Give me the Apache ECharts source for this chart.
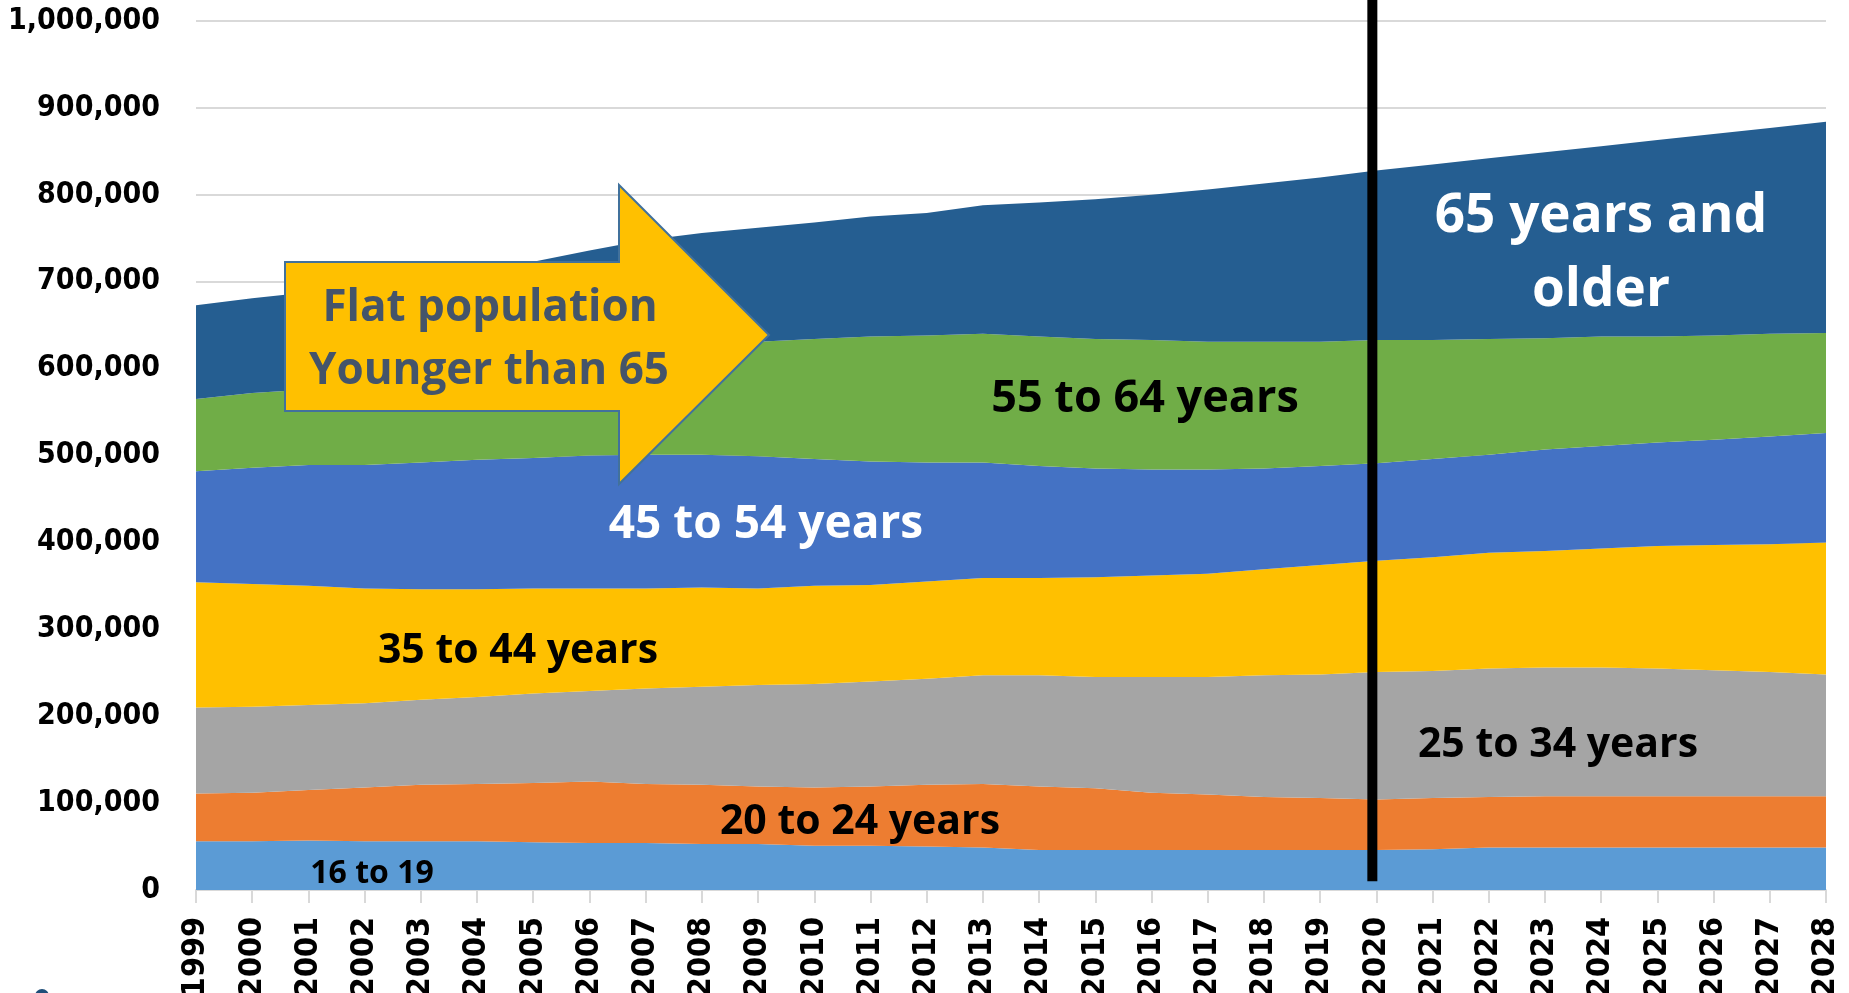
<!DOCTYPE html>
<html>
<head>
<meta charset="utf-8">
<script src="https://cdn.jsdelivr.net/npm/echarts@6/dist/echarts.min.js"></script>
<style>
  html, body { margin: 0; padding: 0; background: #fff; }
  #main { width: 1849px; height: 993px; }
</style>
</head>
<body>
<div id="main"></div>
<script>
// years on the x axis
const years = ['1999', '2000', '2001', '2002', '2003', '2004', '2005', '2006', '2007', '2008',
    '2009', '2010', '2011', '2012', '2013', '2014', '2015', '2016', '2017', '2018',
    '2019', '2020', '2021', '2022', '2023', '2024', '2025', '2026', '2027', '2028'];

// population by age group (stacked, bottom to top)
const age16to19 = [56000, 56000, 57000, 56000, 56000, 56000, 55000, 54000, 54000, 53000,
    53000, 51000, 51000, 50000, 49000, 46000, 46000, 46000, 46000, 46000,
    46000, 46000, 47000, 49000, 49000, 49000, 49000, 49000, 49000, 49000];
const age20to24 = [55000, 56000, 58000, 62000, 65000, 66000, 68000, 71000, 68000, 68000,
    66000, 67000, 68000, 71000, 73000, 73000, 71000, 66000, 64000, 61000,
    60000, 58000, 59000, 58000, 59000, 59000, 59000, 59000, 59000, 59000];
const age25to34 = [99000, 99000, 98000, 97000, 98000, 100000, 103000, 104000, 110000, 113000,
    117000, 119000, 121000, 122000, 125000, 128000, 128000, 133000, 135000, 140000,
    142000, 147000, 146000, 148000, 148000, 148000, 147000, 145000, 143000, 140000];
const age35to44 = [144000, 141000, 137000, 132000, 127000, 124000, 121000, 118000, 115000, 114000,
    111000, 113000, 111000, 112000, 112000, 112000, 115000, 117000, 119000, 122000,
    126000, 128000, 131000, 133000, 134000, 137000, 141000, 144000, 147000, 152000];
const age45to54 = [128000, 134000, 139000, 142000, 146000, 149000, 150000, 153000, 154000, 153000,
    152000, 146000, 142000, 137000, 133000, 129000, 125000, 122000, 120000, 116000,
    114000, 112000, 113000, 113000, 117000, 118000, 119000, 121000, 124000, 126000];
const age55to64 = [83000, 86000, 87000, 93000, 98000, 103000, 109000, 114000, 119000, 125000,
    132000, 138000, 144000, 146000, 148000, 149000, 149000, 149000, 147000, 146000,
    143000, 142000, 137000, 133000, 128000, 126000, 122000, 120000, 118000, 115000];
const age65plus = [108000, 109000, 112000, 115000, 115000, 116000, 117000, 122000, 128000, 130000,
    131000, 134000, 138000, 141000, 148000, 154000, 161000, 167000, 175000, 182000,
    189000, 195000, 202000, 208000, 214000, 219000, 226000, 232000, 237000, 243000];

const groupNames = ['16 to 19', '20 to 24 years', '25 to 34 years', '35 to 44 years',
    '45 to 54 years', '55 to 64 years', '65 years and older'];
const groupValues = [age16to19, age20to24, age25to34, age35to44, age45to54, age55to64, age65plus];
const groupColors = ['#5B9BD5', '#ED7D31', '#A5A5A5', '#FFC000', '#4472C4', '#70AD47', '#255E91'];

const markerYear = '2020';

const labelFont = "'Open Sans', 'Noto Sans', sans-serif";
const axisFont = "'DejaVu Sans Condensed', 'Liberation Sans', sans-serif";

var series = groupNames.map(function (name, i) {
    return {
        name: name,
        type: 'line',
        stack: 'total',
        data: groupValues[i],
        showSymbol: false,
        symbol: 'none',
        lineStyle: { width: 0 },
        areaStyle: { color: groupColors[i], opacity: 1 },
        itemStyle: { color: groupColors[i] },
        emphasis: { disabled: true },
        animation: false
    };
});

function txt(text, x, y, size, color) {
    return {
        type: 'text',
        x: x,
        y: y,
        z: 50,
        style: {
            text: text,
            fill: color,
            font: 'bold ' + size + 'px ' + labelFont,
            align: 'center',
            verticalAlign: 'middle'
        }
    };
}

var chart = echarts.init(document.getElementById('main'));

chart.setOption({
    animation: false,
    backgroundColor: '#ffffff',
    // labels run off the bottom edge like in the original, so don't shrink the grid for them
    grid: { left: 196, right: 23, top: 21, bottom: 103, containLabel: false, outerBoundsMode: 'none' },
    xAxis: {
        type: 'category',
        data: years,
        boundaryGap: false,
        axisLine: { lineStyle: { color: '#D9D9D9', width: 2 } },
        axisTick: { show: true, length: 13, interval: 0, lineStyle: { color: '#D9D9D9', width: 2 } },
        axisLabel: {
            interval: 0,
            rotate: 90,
            margin: 27,
            color: '#000',
            fontWeight: 'bold',
            fontSize: 32,
            fontFamily: axisFont
        },
        splitLine: { show: false }
    },
    yAxis: {
        type: 'value',
        min: 0,
        max: 1000000,
        interval: 100000,
        axisLine: { show: false },
        axisTick: { show: false },
        axisLabel: {
            margin: 36,
            color: '#000',
            fontWeight: 'bold',
            fontSize: 30,
            fontFamily: axisFont,
            formatter: function (v) { return v.toLocaleString('en-US'); }
        },
        splitLine: { lineStyle: { color: '#D9D9D9', width: 2 } }
    },
    series: series
});

// annotations placed on top of the areas
var lineX = chart.convertToPixel({ xAxisIndex: 0 }, markerYear) - 4;
var lineBottom = chart.convertToPixel({ yAxisIndex: 0 }, 10000);

chart.setOption({
    graphic: [
        {
            type: 'polygon',
            z: 40,
            shape: {
                points: [[285, 262], [619, 262], [619, 185], [769, 335], [619, 484], [619, 411], [285, 411]]
            },
            style: { fill: '#FFC000', stroke: '#41719C', lineWidth: 2 }
        },
        txt('Flat population', 490, 308, 44, '#44546A'),
        txt('Younger than 65', 489, 371, 44, '#44546A'),
        txt('65 years and', 1601, 217, 53, '#ffffff'),
        txt('older', 1601, 291, 53, '#ffffff'),
        txt('55 to 64 years', 1145, 399, 45, '#000000'),
        txt('45 to 54 years', 766, 525, 46, '#ffffff'),
        txt('35 to 44 years', 518, 651, 41, '#000000'),
        txt('25 to 34 years', 1558, 745, 41, '#000000'),
        txt('20 to 24 years', 860, 822, 41, '#000000'),
        txt('16 to 19', 372, 874, 32, '#000000'),
        {
            type: 'line',
            z: 60,
            shape: { x1: lineX, y1: 0, x2: lineX, y2: lineBottom },
            style: { stroke: '#000000', lineWidth: 10 }
        },
        {
            type: 'circle',
            z: 60,
            shape: { cx: 42, cy: 996, r: 7 },
            style: { fill: '#1F4E79' }
        }
    ]
});
</script>
</body>
</html>
